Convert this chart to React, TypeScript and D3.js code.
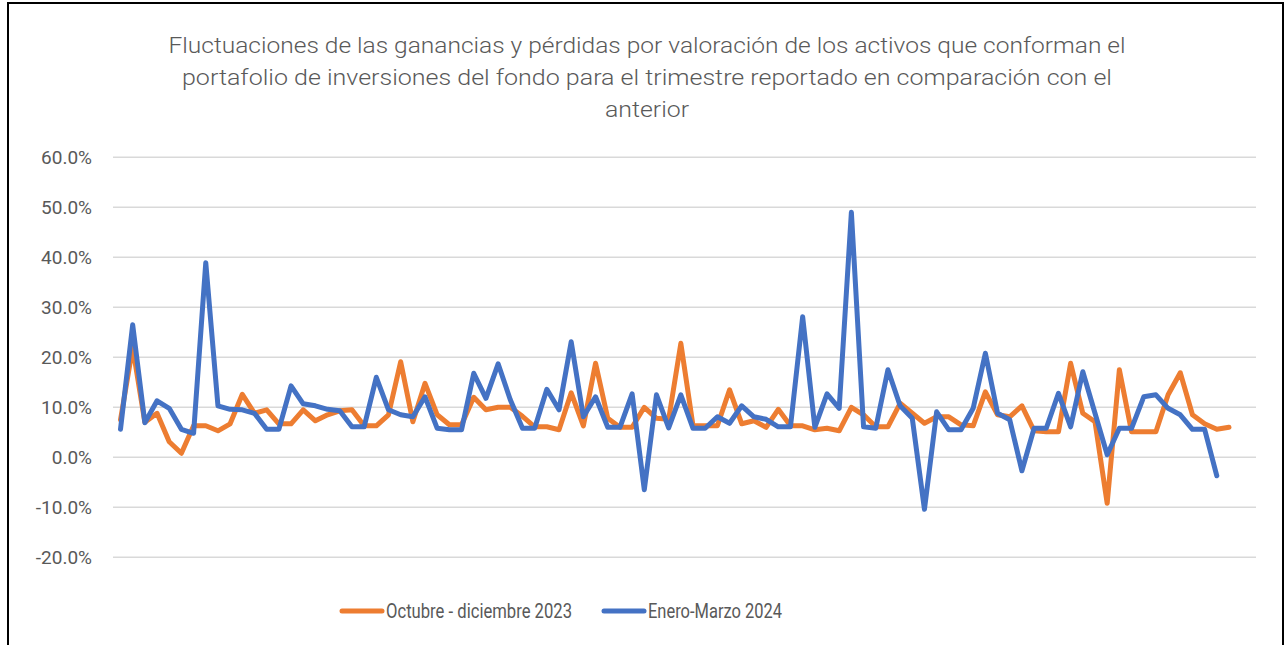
import * as d3 from 'd3';
import React from 'react';

// valores (en %)
const octubreDic2023 = [
  7.5, 22.0, 7.0, 8.8, 3.1, 0.8, 6.3, 6.3, 5.3, 6.7, 12.6, 8.8, 9.5, 6.7, 6.7,
  9.5, 7.3, 8.5, 9.3, 9.5, 6.3, 6.3, 8.5, 19.1, 7.1, 14.8, 8.5, 6.5, 6.5, 12.0,
  9.5, 10.0, 10.0, 8.2, 6.1, 6.1, 5.5, 12.9, 6.3, 18.8, 7.8, 6.0, 6.0, 10.0, 7.8,
  7.6, 22.8, 6.3, 6.3, 6.3, 13.5, 6.7, 7.3, 6.0, 9.6, 6.3, 6.3, 5.5, 5.8, 5.3,
  10.0, 8.5, 6.1, 6.1, 10.8, 8.8, 6.8, 8.1, 8.1, 6.5, 6.3, 13.1, 8.5, 8.1, 10.3,
  5.3, 5.1, 5.1, 18.8, 8.8, 7.1, -9.2, 17.5, 5.1, 5.1, 5.1, 12.5, 16.9, 8.5, 6.7,
  5.6, 6.0,
];

const eneroMarzo2024 = [
  5.6, 26.5, 6.9, 11.3, 9.8, 5.6, 4.8, 38.9, 10.3, 9.6, 9.5, 8.8, 5.6, 5.6, 14.3,
  10.7, 10.3, 9.6, 9.3, 6.1, 6.1, 16.0, 9.5, 8.5, 8.1, 12.1, 5.8, 5.5, 5.5, 16.8,
  11.8, 18.7, 11.5, 5.8, 5.8, 13.6, 9.5, 23.1, 8.1, 12.1, 6.0, 6.0, 12.7, -6.5, 12.5,
  5.9, 12.5, 5.8, 5.8, 8.1, 6.8, 10.3, 8.1, 7.6, 6.1, 6.1, 28.1, 6.0, 12.7, 9.8,
  49.0, 6.1, 5.8, 17.5, 10.3, 7.8, -10.4, 9.1, 5.5, 5.5, 9.8, 20.8, 8.8, 7.5, -2.7,
  5.8, 5.8, 12.8, 6.1, 17.1, 8.8, 0.5, 5.8, 5.8, 12.1, 12.5, 9.8, 8.5, 5.6, 5.6,
  -3.7,
];

const categories = octubreDic2023.map((_, i) => i);
const yTicks = [60, 50, 40, 30, 20, 10, 0, -10, -20];
const seriesNames = ['Octubre - diciembre 2023', 'Enero-Marzo 2024'];
const seriesColors = ['#ED7D31', '#4472C4'];

const titleLines = [
  'Fluctuaciones de las ganancias y pérdidas por valoración de los activos que conforman el',
  'portafolio de inversiones del fondo para el trimestre reportado en comparación con el',
  'anterior',
];

const W = 1286;
const H = 645;
const font = 'Roboto, "Open Sans", sans-serif';

export default function App() {
  const x = d3.scaleLinear().domain([0, categories.length - 1]).range([120.5, 1229]);
  const y = d3.scaleLinear().domain([-20, 60]).range([557.3, 157.3]);

  const line = d3
    .line<number>()
    .x((d, i) => x(categories[i]))
    .y((d) => y(d));

  const fmt = (v: number) => v.toFixed(1) + '%';

  return (
    <svg
      width={W}
      height={H}
      style={{ position: 'absolute', left: 0, top: 0, background: '#fff' }}
    >
      <rect x={0} y={0} width={W} height={H} fill="#fff" />
      {/* marco */}
      <rect x={8} y={3} width={1275} height={H + 10} fill="none" stroke="#000" strokeWidth={2} />

      {/* título */}
      {titleLines.map((t, i) => (
        <text
          key={i}
          x={647}
          y={45 + i * 32}
          textAnchor="middle"
          dominantBaseline="central"
          fontFamily={font}
          fontSize={22}
          fontWeight={300}
          fill="#595959"
          textLength={i === 0 ? 957 : i === 1 ? 930 : 84}
          lengthAdjust="spacingAndGlyphs"
        >
          {t}
        </text>
      ))}

      {/* líneas de cuadrícula y etiquetas */}
      {yTicks.map((t) => (
        <g key={t}>
          <line x1={113} x2={1256} y1={y(t)} y2={y(t)} stroke="#d9d9d9" strokeWidth={1.5} />
          <text
            x={92}
            y={y(t)}
            textAnchor="end"
            dominantBaseline="central"
            fontFamily={font}
            fontSize={19}
            fill="#595959"
          >
            {fmt(t)}
          </text>
        </g>
      ))}

      {/* series */}
      {[octubreDic2023, eneroMarzo2024].map((s, k) => (
        <path
          key={k}
          d={line(s) || ''}
          fill="none"
          stroke={seriesColors[k]}
          strokeWidth={5}
          strokeLinejoin="round"
          strokeLinecap="round"
        />
      ))}

      {/* leyenda */}
      {[
        { x0: 342, x1: 382, tx: 386, tw: 186 },
        { x0: 604, x1: 644, tx: 648, tw: 134 },
      ].map((l, k) => (
        <g key={k}>
          <line
            x1={l.x0}
            x2={l.x1}
            y1={611}
            y2={611}
            stroke={seriesColors[k]}
            strokeWidth={5}
            strokeLinecap="round"
          />
          <text
            x={l.tx}
            y={611}
            dominantBaseline="central"
            fontFamily={font}
            fontSize={21}
            fill="#595959"
            textLength={l.tw}
            lengthAdjust="spacingAndGlyphs"
          >
            {seriesNames[k]}
          </text>
        </g>
      ))}
    </svg>
  );
}
